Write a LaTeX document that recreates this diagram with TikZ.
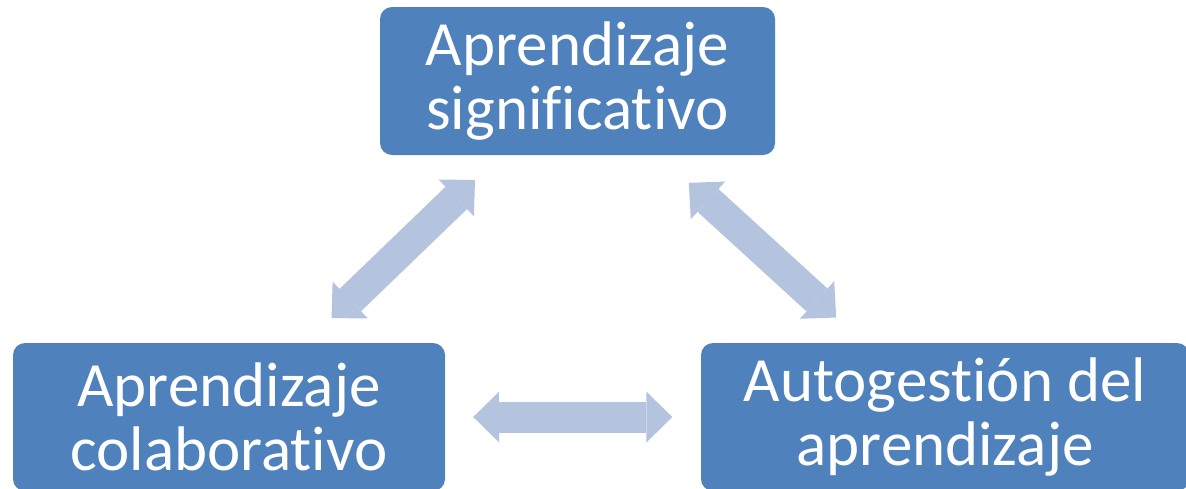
\documentclass[tikz,border=0pt]{standalone}
\usepackage{fontspec}
\setmainfont{Carlito}[Ligatures=NoCommon, RawFeature=-calt, RawFeature=-clig, RawFeature=-dlig]
\usepackage{tikz}
\usetikzlibrary{arrows.meta}
\definecolor{boxblue}{RGB}{79,129,189}
\definecolor{arrowblue}{RGB}{180,195,222}

\begin{document}
\begin{tikzpicture}[x=1pt,y=-1pt]
    % Styles for the concept boxes and the two-way arrows
    \tikzset{
        conceptbox/.style={rectangle, rounded corners=12pt, fill=boxblue, text=white,
            minimum height=148pt, inner sep=0pt, align=center,
            font=\fontsize{63}{64}\selectfont},
        biarrow/.style={draw=arrowblue, line width=31pt,
            {Triangle[length=26pt,width=51pt,line width=0pt]}-{Triangle[length=26pt,width=51pt,line width=0pt]}}
    }

    % Fix the page to the size of the reference
    \useasboundingbox (0,0) rectangle (1186,488);
    \clip (0,0) rectangle (1186,488);

    % Draw the three concept boxes
    \node[conceptbox, minimum width=395pt] (signif) at (577.5,81) {Aprendizaje\\significativo};
    \node[conceptbox, minimum width=432pt] (colab) at (229,417) {Aprendizaje\\colaborativo};
    \node[conceptbox, minimum width=488pt] (autog) at (945,417) {Autogestión del\\aprendizaje};

    % Draw the arrows between the boxes
    \draw[biarrow, shorten <=35.6pt, shorten >=35.6pt] (signif) -- (colab);
    \draw[biarrow, shorten <=41pt, shorten >=37.5pt] (signif) -- (autog);
    \draw[biarrow, shorten <=28pt, shorten >=28.5pt] (colab) -- (autog);
\end{tikzpicture}
\end{document}
